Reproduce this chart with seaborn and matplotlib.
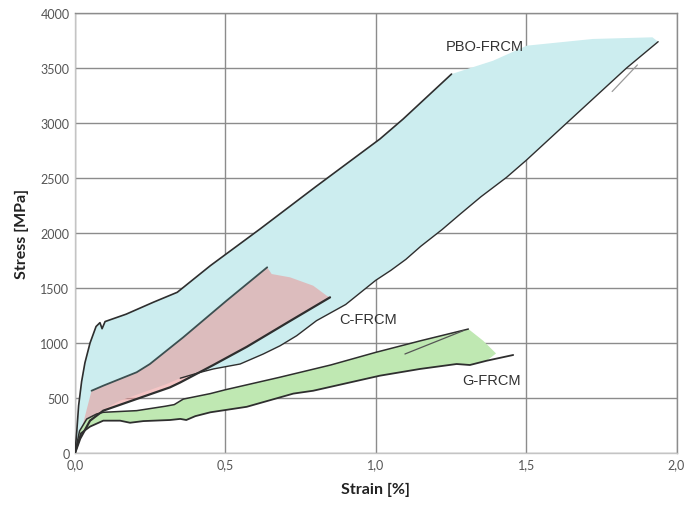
import matplotlib
matplotlib.use("Agg")
import matplotlib.pyplot as plt
import seaborn as sns
import numpy as np
import pandas as pd

# ---------------- data (strain [%], stress [MPa]) ----------------
pbo_upper_x = [0.0, 0.006, 0.012, 0.022, 0.033, 0.05, 0.07, 0.083, 0.09, 0.1, 0.17, 0.26, 0.34, 0.45, 0.615, 0.8, 1.014, 1.091, 1.252]
pbo_upper_y = [0, 200, 430, 650, 820, 1000, 1150, 1185, 1130, 1195, 1262, 1370, 1461, 1703, 2036, 2420, 2855, 3036, 3445]
pbo_top_x = [1.39, 1.502, 1.722, 1.92, 1.939]
pbo_top_y = [3566, 3703, 3764, 3779, 3739]
pbo_lower_x = [0.0, 0.03, 0.066, 0.15, 0.227, 0.305, 0.35, 0.416, 0.46, 0.549, 0.626, 0.682, 0.737, 0.803, 0.9, 0.95, 1.0, 1.05, 1.1, 1.15, 1.22, 1.28, 1.35, 1.435, 1.5, 1.635, 1.834, 1.939]
pbo_lower_y = [0, 250, 355, 476, 551, 627, 680, 733, 764, 809, 900, 975, 1066, 1203, 1350, 1460, 1570, 1660, 1760, 1880, 2030, 2170, 2330, 2506, 2660, 3000, 3500, 3739]

c_upper_x = [0.0, 0.028, 0.055, 0.094, 0.205, 0.249, 0.36, 0.504, 0.639]
c_upper_y = [0, 279, 566, 612, 734, 809, 1052, 1385, 1688]
c_top_x = [0.654, 0.715, 0.792, 0.837]
c_top_y = [1627, 1597, 1521, 1430]
c_lower_x = [0.0, 0.017, 0.05, 0.094, 0.205, 0.316, 0.349, 0.46, 0.571, 0.715, 0.848]
c_lower_y = [0, 130, 294, 385, 491, 597, 640, 800, 965, 1200, 1415]

g_upper_x = [0.0, 0.015, 0.039, 0.072, 0.094, 0.205, 0.30, 0.33, 0.36, 0.45, 0.50, 0.68, 0.85, 1.0, 1.15, 1.308]
g_upper_y = [0, 200, 309, 355, 370, 385, 425, 440, 490, 540, 575, 688, 800, 915, 1021, 1127]
g_edge_x = [1.357, 1.40]
g_edge_y = [1021, 905]
g_lower_x = [0.0, 0.02, 0.05, 0.094, 0.15, 0.183, 0.227, 0.316, 0.35, 0.37, 0.40, 0.45, 0.571, 0.726, 0.792, 1.014, 1.147, 1.269, 1.313, 1.369, 1.457]
g_lower_y = [0, 180, 240, 294, 294, 275, 290, 300, 310, 300, 335, 370, 420, 540, 566, 703, 764, 809, 800, 839, 891]

pbo_thin_x = [1.786, 1.87]
pbo_thin_y = [3286, 3528]
g_thin_x = [1.097, 1.291]
g_thin_y = [900, 1112]

labels = ["PBO-FRCM", "C-FRCM", "G-FRCM"]
label_x = [1.363, 0.974, 1.385]
label_y = [3700, 1215, 660]

x_ticks = [0.0, 0.5, 1.0, 1.5, 2.0]
x_ticklabels = ["0,0", "0,5", "1,0", "1,5", "2,0"]
y_ticks = [0, 500, 1000, 1500, 2000, 2500, 3000, 3500, 4000]

# ---------------- style ----------------
sns.set_theme(style="white")
plt.rcParams['font.family'] = ['Lato', 'DejaVu Sans']

fig = plt.figure(figsize=(6.89, 5.06), dpi=100)
ax = fig.add_axes([75 / 689, 52 / 506, 601.5 / 689, 440 / 506])

cyan = "#ccedef"
pink = (0.93, 0.55, 0.55, 0.5)
green = "#bfe8b2"
lc = "#2e2e2e"

# fills
px = pbo_upper_x + pbo_top_x + pbo_lower_x[::-1]
py = pbo_upper_y + pbo_top_y + pbo_lower_y[::-1]
ax.fill(px, py, color=cyan, lw=0, zorder=1)

cx = c_upper_x + c_top_x + c_lower_x[::-1]
cy = c_upper_y + c_top_y + c_lower_y[::-1]
ax.fill(cx, cy, color=pink, lw=0, zorder=2)

gl = [(x, y) for x, y in zip(g_lower_x, g_lower_y) if x <= 1.40]
gx = g_upper_x + g_edge_x + [p[0] for p in gl][::-1]
gy = g_upper_y + g_edge_y + [p[1] for p in gl][::-1]
ax.fill(gx, gy, color=green, lw=0, zorder=2)

def line(x, y, color=lc, lw=1.2, z=4):
    df = pd.DataFrame({"x": x, "y": y})
    sns.lineplot(data=df, x="x", y="y", sort=False, estimator=None,
                 color=color, lw=lw, ax=ax, zorder=z)

line(pbo_upper_x, pbo_upper_y)
idx = pbo_lower_x.index(0.35)
line(pbo_lower_x[idx:], pbo_lower_y[idx:], lw=1.0)
line(c_upper_x[2:], c_upper_y[2:], color="#3b4f50", lw=1.3)
line(c_lower_x, c_lower_y, lw=1.6)
line(g_upper_x, g_upper_y, lw=1.1)
line(g_lower_x, g_lower_y, lw=1.3)
line(pbo_thin_x, pbo_thin_y, color="#9a9a9a", lw=0.9)
line(g_thin_x, g_thin_y, color="#555555", lw=0.9)

for t, x, y in zip(labels, label_x, label_y):
    ax.text(x, y, t, ha="center", va="center", fontsize=10.5,
            color="#333333", family=["Liberation Sans", "DejaVu Sans"], zorder=6)

ax.set_xlim(0, 2.0)
ax.set_ylim(0, 4000)
ax.set_xticks(x_ticks)
ax.set_xticklabels(x_ticklabels)
ax.set_yticks(y_ticks)
ax.grid(True, color="#8c8c8c", lw=1.0, zorder=0)
ax.set_axisbelow(True)
ax.tick_params(length=0, labelsize=9, colors="#555555", pad=4)
for s in ["left", "bottom"]:
    ax.spines[s].set_color("#c4c4c4")
    ax.spines[s].set_linewidth(1.0)
for s in ["top", "right"]:
    ax.spines[s].set_color("#8c8c8c")
    ax.spines[s].set_linewidth(1.0)

ax.set_xlabel("Strain [%]", fontsize=11.5, fontweight="bold", color="#222222", labelpad=8)
ax.set_ylabel("Stress [MPa]", fontsize=11.5, fontweight="bold", color="#222222", labelpad=8)

fig.savefig("out.png", dpi=100)
